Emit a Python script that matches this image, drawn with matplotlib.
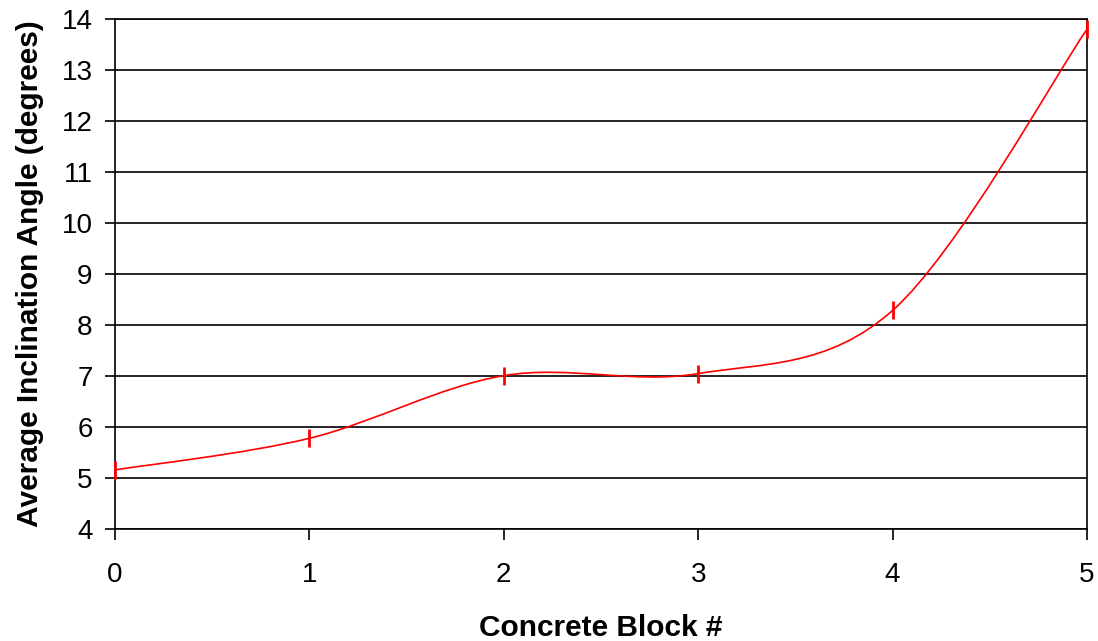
import matplotlib
matplotlib.use("Agg")
import matplotlib.pyplot as plt
from matplotlib.path import Path
from matplotlib.patches import PathPatch
import numpy as np

# Data
block = [0, 1, 2, 3, 4, 5]
angle = [5.15, 5.77, 7.00, 7.04, 8.28, 13.80]
x_ticks = [0, 1, 2, 3, 4, 5]
y_ticks = [4, 5, 6, 7, 8, 9, 10, 11, 12, 13, 14]

plt.rcParams['font.family'] = ['Liberation Sans', 'DejaVu Sans']

fig = plt.figure(figsize=(10.98, 6.41), dpi=100)
ax = fig.add_axes([0.1047, 0.1755, 0.8853, 0.7949])

# Smoothed line (Excel-style cubic Bezier through the data points)
pts = np.column_stack([block, angle]).astype(float)
n = len(pts)
verts = [tuple(pts[0])]
codes = [Path.MOVETO]
for i in range(n - 1):
    p0 = pts[i]
    p3 = pts[i + 1]
    pm = pts[i - 1] if i > 0 else pts[i]
    pp = pts[i + 2] if i + 2 < n else pts[i + 1]
    c1 = p0 + (p3 - pm) / 6.0
    c2 = p3 - (pp - p0) / 6.0
    verts += [tuple(c1), tuple(c2), tuple(p3)]
    codes += [Path.CURVE4] * 3
patch = PathPatch(Path(verts, codes), facecolor='none', edgecolor='#ff0000',
                  linewidth=1.2, zorder=3)
ax.add_patch(patch)

ax.plot(block, angle, linestyle='none', marker='|', markersize=12.5,
        markeredgewidth=2.0, color='#ff0000', clip_on=False, zorder=4)

ax.set_xlim(0, 5)
ax.set_ylim(4, 14)
ax.set_xticks(x_ticks)
ax.set_yticks(y_ticks)
ax.set_xticklabels([str(v) for v in x_ticks])
ax.set_yticklabels([str(v) for v in y_ticks])

ax.yaxis.grid(True, color='black', linewidth=1.2)
ax.xaxis.grid(False)
ax.set_axisbelow(True)
for s in ax.spines.values():
    s.set_color('black')
    s.set_linewidth(1.2)

ax.tick_params(axis='x', direction='out', length=8, width=1.2, pad=16,
               labelsize=20, colors='black')
ax.tick_params(axis='y', direction='out', length=7, width=1.2, pad=9,
               labelsize=20, colors='black')

ax.set_xlabel('Concrete Block #', fontsize=21.5, fontweight='bold', labelpad=19)
ax.set_ylabel('Average Inclination Angle (degrees)', fontsize=21.5,
              fontweight='bold', labelpad=13)

fig.savefig('out.png', dpi=100)
